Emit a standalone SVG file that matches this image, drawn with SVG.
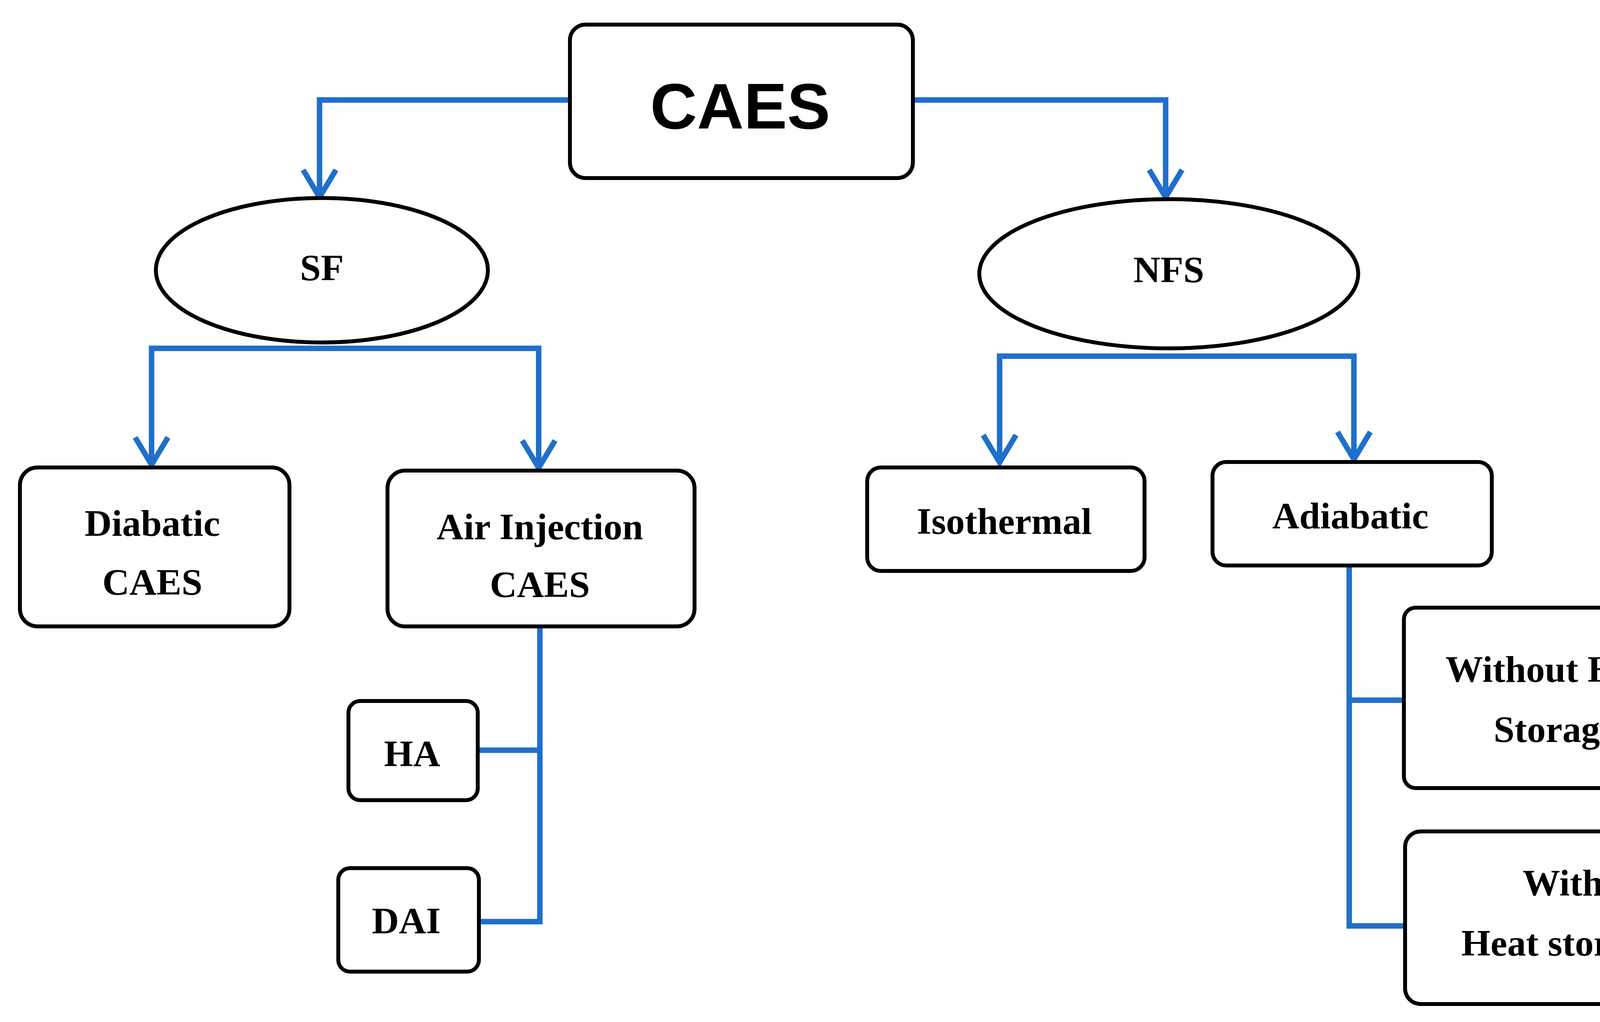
<svg xmlns="http://www.w3.org/2000/svg" width="4444" height="2617" viewBox="0 0 4444 2617">
<style>
.b{fill:#fff;stroke:#000;stroke-width:10}
.c{fill:none;stroke:#1f6fcc;stroke-width:14}
.t{font-family:"Liberation Serif",serif;font-weight:bold;font-size:96px;text-anchor:middle;dominant-baseline:central;fill:#000}
</style>
<defs>
<marker id="a" markerUnits="userSpaceOnUse" viewBox="-80 -60 100 120" markerWidth="100" markerHeight="120" refX="0" refY="0" orient="auto">
<path d="M-70,-42 L0,0 L-70,42" fill="none" stroke="#1f6fcc" stroke-width="14"/>
</marker>
</defs>
<rect width="4444" height="2617" fill="#fff"/>
<g id="connectors">
<path class="c" d="M1459,256 H818 V505" marker-end="url(#a)"/>
<path class="c" d="M2337,256 H2984 V505" marker-end="url(#a)"/>
<path class="c" d="M824,892 H388 V1190" marker-end="url(#a)"/>
<path class="c" d="M824,892 H1379 V1198" marker-end="url(#a)"/>
<path class="c" d="M2992,912 H2559 V1184" marker-end="url(#a)"/>
<path class="c" d="M2992,912 H3466 V1176" marker-end="url(#a)"/>
<path class="c" d="M1382,1604 V2360 H1226 M1382,1921 H1223"/>
<path class="c" d="M3454,1448 V2371 H3597 M3454,1793 H3597"/>
</g>
<g id="caes"><rect class="b" x="1459" y="63" width="878" height="393" rx="40"/><text class="t" x="1895" y="271" style="font-family:'Liberation Sans',sans-serif;font-size:166px">CAES</text></g>
<g id="sf"><ellipse class="b" cx="824" cy="692" rx="425" ry="185"/><text class="t" x="824" y="685" font-size="104">SF</text></g>
<g id="nfs"><ellipse class="b" cx="2992" cy="701" rx="485" ry="191"/><text class="t" x="2992" y="690">NFS</text></g>
<g id="diabatic"><rect class="b" x="51" y="1197" width="690" height="407" rx="45"/><text class="t" x="390" y="1339">Diabatic</text><text class="t" x="390" y="1490">CAES</text></g>
<g id="airinj"><rect class="b" x="992" y="1205" width="786" height="399" rx="45"/><text class="t" x="1382" y="1348">Air Injection</text><text class="t" x="1382" y="1496">CAES</text></g>
<g id="iso"><rect class="b" x="2220" y="1197" width="710" height="265" rx="35"/><text class="t" x="2571" y="1334">Isothermal</text></g>
<g id="adia"><rect class="b" x="3104" y="1183" width="715" height="265" rx="35"/><text class="t" x="3457" y="1320">Adiabatic</text></g>
<g id="ha"><rect class="b" x="892" y="1795" width="331" height="254" rx="30"/><text class="t" x="1055" y="1929">HA</text></g>
<g id="dai"><rect class="b" x="866" y="2223" width="360" height="265" rx="30"/><text class="t" x="1040" y="2357">DAI</text></g>
<g id="without"><rect class="b" x="3594" y="1556" width="781" height="462" rx="30"/><text class="t" x="3981" y="1713">Without Heat</text><text class="t" x="3981" y="1867">Storage</text></g>
<g id="with"><rect class="b" x="3597" y="2129" width="809" height="442" rx="40"/><text class="t" x="4001" y="2260">With</text><text class="t" x="4001" y="2414">Heat storage</text></g>
</svg>
